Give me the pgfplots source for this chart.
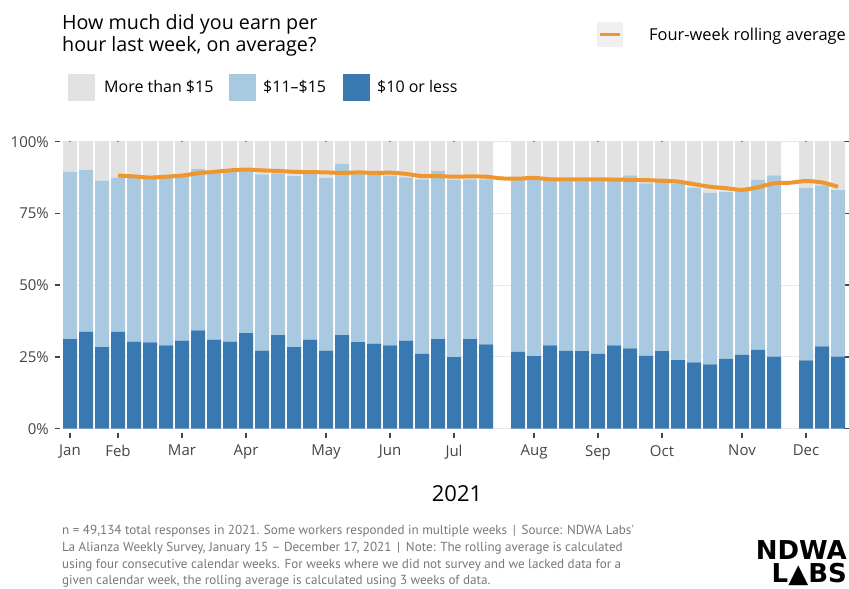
\documentclass[border=0pt]{standalone}
\usepackage{fontspec}
\setmainfont{Open Sans}
\newfontfamily\footfont{PT Sans}
\newfontfamily\logofont{DejaVu Sans}
\usepackage{pgfplots}
\usepackage{pgfplotstable}
\pgfplotsset{compat=1.18}

\definecolor{cgray}{HTML}{E2E2E2}
\definecolor{clight}{HTML}{A9C9E0}
\definecolor{cdark}{HTML}{3979B1}
\definecolor{corange}{HTML}{F0962E}
\definecolor{cfoot}{HTML}{777777}
\definecolor{ctick}{HTML}{444444}

% weekly shares (%), slot = week index; weeks 27 and 45 not surveyed
\pgfplotstableread{
x  low  mid  high
0  31.2 58.3 10.5
1  33.8 56.3 9.9
2  28.4 58.0 13.6
3  33.7 53.8 12.5
4  30.3 57.0 12.7
5  30.1 57.1 12.8
6  29.0 59.0 12.0
7  30.7 57.8 11.5
8  34.3 56.1 9.6
9  31.0 58.5 10.5
10 30.3 59.5 10.2
11 33.3 56.7 10.0
12 27.2 61.4 11.4
13 32.6 56.4 11.0
14 28.4 59.6 12.0
15 31.0 57.8 11.2
16 27.2 60.3 12.5
17 32.6 59.7 7.7
18 30.2 58.8 11.0
19 29.6 59.2 11.2
20 29.0 59.2 11.8
21 30.7 56.9 12.4
22 26.1 60.8 13.1
23 31.2 58.5 10.3
24 24.9 61.8 13.3
25 31.2 55.7 13.1
26 29.4 57.5 13.1
28 26.8 60.1 13.1
29 25.3 61.4 13.3
30 29.0 57.7 13.3
31 27.1 59.4 13.5
32 27.0 59.6 13.4
33 26.1 60.3 13.6
34 29.0 57.4 13.6
35 28.0 60.3 11.7
36 25.4 60.1 14.5
37 27.0 59.1 13.9
38 23.9 61.6 14.5
39 23.1 60.8 16.1
40 22.4 59.8 17.8
41 24.3 58.1 17.6
42 25.7 57.2 17.1
43 27.5 59.2 13.3
44 25.1 63.2 11.7
46 23.8 60.0 16.2
47 28.7 56.1 15.2
48 25.1 58.0 16.9
}\wages

% four-week rolling average of the two lower groups
\pgfplotstableread{
x  avg
3  88.2
4  87.9
5  87.5
6  87.8
7  88.2
8  89.0
9  89.5
10 90.0
11 90.3
12 90.0
13 89.8
14 89.5
15 89.4
16 89.3
17 89.1
18 89.3
19 89.1
20 89.2
21 88.8
22 88.0
23 88.0
24 87.8
25 87.9
26 87.8
27 87.2
28 87.1
29 87.4
30 86.9
31 86.9
32 86.9
33 86.9
34 86.8
35 86.7
36 86.6
37 86.4
38 86.1
39 85.2
40 84.3
41 83.8
42 83.2
43 84.1
44 85.5
45 85.7
46 86.3
47 85.8
48 84.3
}\rolling

\begin{document}
\begin{tikzpicture}[x=1bp,y=1bp]
\path[use as bounding box] (0,0) rectangle (849,589);

\begin{axis}[
  at={(62bp,160.3bp)}, anchor=south west,
  scale only axis, width=784bp, height=287bp,
  xmin=-0.5, xmax=48.5, ymin=0, ymax=100,
  ybar stacked, bar width=14bp,
  axis line style={draw=none},
  tick align=outside, major tick length=5bp,
  xtick style={draw=ctick, line width=1.8bp, yshift=-4bp},
  ytick style={draw=ctick, line width=1.5bp, xshift=-2bp},
  ymajorgrids, grid style={draw=black!9, line width=1bp},
  ytick={0,25,50,75,100},
  yticklabels={0\%, 25\%, 50\%, 75\%, 100\%},
  yticklabel style={anchor=east, inner sep=0pt, xshift=-8bp,
    text=ctick, font=\fontsize{15bp}{17bp}\selectfont},
  xtick={0,3,7,11,16,20,24,29,33,37,42,46},
  xticklabels={Jan, Feb, Mar, Apr, May, Jun, Jul, Aug, Sep, Oct, Nov, Dec},
  xticklabel style={anchor=north, inner sep=0pt, yshift=-11.3bp,
    text=ctick, font=\fontsize{15bp}{17bp}\selectfont},
]
  \addplot[fill=cdark, draw=none] table[x=x, y=low] {\wages};
  \addplot[fill=clight, draw=none] table[x=x, y=mid] {\wages};
  \addplot[fill=cgray, draw=none] table[x=x, y=high] {\wages};
\end{axis}

\begin{axis}[
  at={(62bp,160.3bp)}, anchor=south west,
  scale only axis, width=784bp, height=287bp,
  xmin=-0.5, xmax=48.5, ymin=0, ymax=100,
  hide axis,
]
  \addplot[corange, line width=4bp, smooth, tension=0.4] table[x=x, y=avg] {\rolling};
\end{axis}

% title
\node[anchor=base west, inner sep=0pt, font=\fontsize{19.7bp}{22bp}\selectfont]
  at (62,559) {How much did you earn per};
\node[anchor=base west, inner sep=0pt, font=\fontsize{19.7bp}{22bp}\selectfont]
  at (62,537) {hour last week, on average?};

% legend
\fill[cgray]  (68,488) rectangle (95,515);
\fill[clight] (229,488) rectangle (256,515);
\fill[cdark]  (343,488) rectangle (370,515);
\begin{scope}[every node/.style={anchor=base west, inner sep=0pt,
    font=\fontsize{16bp}{19bp}\selectfont}]
  \node at (104,496.3) {More than \$15};
  \node at (263,496.3) {\$11–\$15};
  \node at (377,496.3) {\$10 or less};
  \node[font=\fontsize{16.4bp}{19bp}\selectfont] at (649,548.3) {Four-week rolling average};
\end{scope}
\fill[black!6] (597,542) rectangle (623,567);
\draw[corange, line width=3bp] (600,554) -- (620,554);

% x-axis title
\node[anchor=base, inner sep=0pt, font=\fontsize{22bp}{26bp}\selectfont]
  at (457,87) {2021};

% notes
\begin{scope}[every node/.style={anchor=base west, inner sep=0pt, text=cfoot,
    font=\footfont\fontsize{13.1bp}{15bp}\selectfont}]
  \node at (62,54) {n = 49,134 total responses in 2021. Some workers responded in multiple weeks \,|\, Source: NDWA Labs'};
  \node at (62,37.3) {La Alianza Weekly Survey, January 15 – December 17, 2021 \,|\, Note: The rolling average is calculated};
  \node at (62,20.7) {using four consecutive calendar weeks. For weeks where we did not survey and we lacked data for a};
  \node at (62,4) {given calendar week, the rolling average is calculated using 3 weeks of data.};
\end{scope}

% logo
\node[anchor=south east, inner sep=0pt, align=right,
    font=\logofont\bfseries\fontsize{26bp}{23bp}\selectfont]
  at (847,6) {NDWA\\L\raisebox{0pt}[19bp][0pt]{▲}BS\hspace{2bp}};
\end{tikzpicture}
\end{document}
